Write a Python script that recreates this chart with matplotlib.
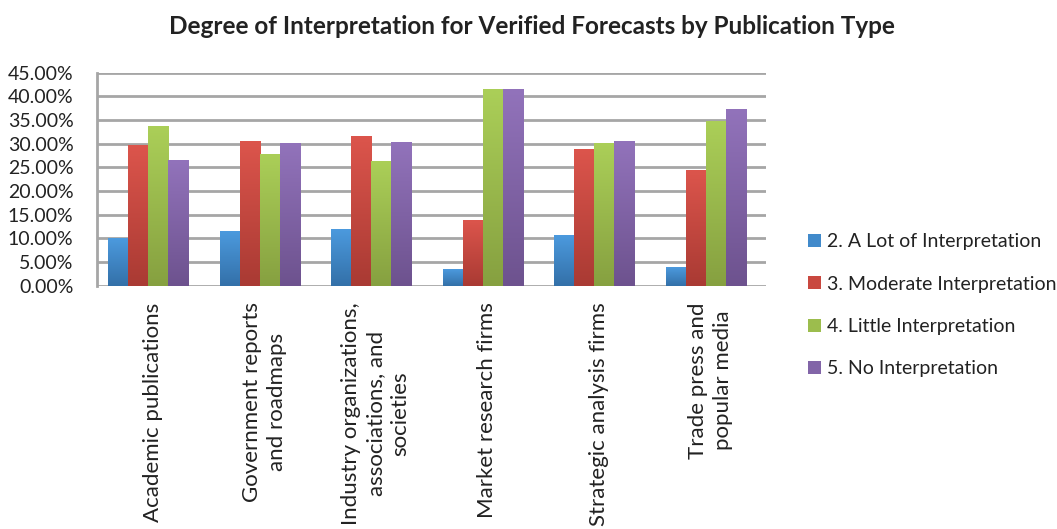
import matplotlib
matplotlib.use("Agg")
import matplotlib.pyplot as plt
from matplotlib.colors import LinearSegmentedColormap
from matplotlib.patches import Patch
from matplotlib.ticker import FuncFormatter, MultipleLocator
import numpy as np

plt.rcParams["font.family"] = ["Lato", "DejaVu Sans"]

categories = [
    "Academic publications",
    "Government reports\nand roadmaps",
    "Industry organizations,\nassociations, and\nsocieties",
    "Market research firms",
    "Strategic analysis firms",
    "Trade press and\npopular media",
]
series_names = [
    "2. A Lot of Interpretation",
    "3. Moderate Interpretation",
    "4. Little Interpretation",
    "5. No Interpretation",
]
a_lot = [10.1, 11.6, 12.0, 3.5, 10.7, 3.9]
moderate = [29.7, 30.6, 31.6, 13.9, 28.9, 24.4]
little = [33.7, 27.8, 26.3, 41.5, 30.1, 34.8]
none_ = [26.5, 30.1, 30.4, 41.5, 30.6, 37.3]
values = [a_lot, moderate, little, none_]

# (top, bottom) colours of each series' vertical gradient
shades = [
    ("#4c9ade", "#3370a8"),
    ("#dc554c", "#a93a33"),
    ("#abcf58", "#86a040"),
    ("#9273bb", "#6d528e"),
]

fig = plt.figure(figsize=(10.57, 5.29), dpi=100)
ax = fig.add_axes([0.0918, 0.46, 0.633, 0.4026])

x = np.arange(len(categories))
width = 0.18
grad = np.linspace(0, 1, 256).reshape(-1, 1)

for i, (vals, (top, bottom)) in enumerate(zip(values, shades)):
    offset = (i - 1.5) * width - 0.04
    bars = ax.bar(x + offset, vals, width, color="none", edgecolor="none", zorder=3)
    cmap = LinearSegmentedColormap.from_list(f"s{i}", [bottom, top])
    for b in bars:
        x0, y0 = b.get_x(), b.get_y()
        im = ax.imshow(grad, cmap=cmap, aspect="auto", zorder=3,
                       extent=[x0, x0 + b.get_width(), y0, y0 + b.get_height()],
                       vmin=0, vmax=1, origin="lower")
        im.set_clip_path(b)

ax.set_xlim(-0.5, len(categories) - 0.5)
ax.set_ylim(0, 45)
ax.yaxis.set_major_locator(MultipleLocator(5))
ax.yaxis.set_major_formatter(FuncFormatter(lambda v, _: f"{v:.2f}%"))
ax.grid(axis="y", color="#a6a6a6", linewidth=2, zorder=0)
ax.set_axisbelow(True)
for side in ("top", "right", "bottom"):
    ax.spines[side].set_visible(False)
ax.spines["left"].set_color("#a6a6a6")
ax.spines["left"].set_linewidth(2)
ax.tick_params(axis="y", length=0, labelsize=14, pad=17, colors="#222222")
ax.tick_params(axis="x", length=0, pad=12)
ax.set_xticks(x)
ax.set_xticklabels(categories, rotation=90, ha="center", va="top",
                   multialignment="center", fontsize=16, linespacing=1.3,
                   color="#222222")

fig.text(0.503, 0.949, "Degree of Interpretation for Verified Forecasts by Publication Type",
         ha="center", va="center", fontsize=17.5, fontweight="bold", color="#222222")

handles = [Patch(facecolor=mid, edgecolor="none") for mid in
           ["#418acb", "#c9483f", "#9cbd4d", "#8265a8"]]
fig.legend(handles, series_names, loc="center left", bbox_to_anchor=(0.748, 0.423),
           frameon=False, fontsize=14, handlelength=0.65, handleheight=0.65,
           handletextpad=0.3, labelspacing=1.3, labelcolor="#222222")

fig.savefig("out.png", dpi=100)
